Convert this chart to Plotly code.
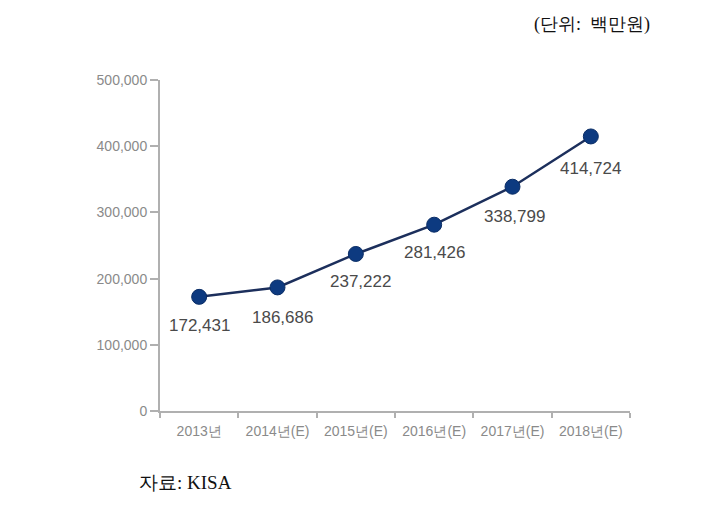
import plotly.graph_objects as go

categories = ["2013년", "2014년(E)", "2015년(E)", "2016년(E)", "2017년(E)", "2018년(E)"]
values = [172431, 186686, 237222, 281426, 338799, 414724]
labels = ["172,431", "186,686", "237,222", "281,426", "338,799", "414,724"]
y_ticks = [0, 100000, 200000, 300000, 400000, 500000]
y_tick_text = ["0", "100,000", "200,000", "300,000", "400,000", "500,000"]

label_xshift = [0, 5, 5, 0, 2, 0]
label_yshift = [-29, -30, -28, -28, -30, -32]

fig = go.Figure()
fig.add_trace(go.Scatter(
    x=categories, y=values, mode="lines+markers",
    line=dict(color="#1c2f5c", width=2.5),
    marker=dict(color="#0d3a80", size=15, line=dict(color="#0a2d66", width=1)),
    cliponaxis=False, showlegend=False,
))

for c, v, t, dx, dy in zip(categories, values, labels, label_xshift, label_yshift):
    fig.add_annotation(x=c, y=v, text=t, showarrow=False, xshift=dx, yshift=dy,
                       font=dict(family="Liberation Sans, Arial, sans-serif", size=17, color="#4a4a4a"))

fig.add_annotation(xref="paper", yref="paper", x=1.0, y=1.0, xanchor="right", yanchor="middle",
                   text="(단위:  백만원)", showarrow=False, xshift=22, yshift=56,
                   font=dict(family="Liberation Serif, serif", size=18, color="#111111"))
fig.add_annotation(xref="paper", yref="paper", x=0, y=0, xanchor="left", yanchor="middle",
                   text="자료: KISA", showarrow=False, xshift=-23, yshift=-71,
                   font=dict(family="Liberation Serif, serif", size=19, color="#111111"))

fig.update_layout(
    width=727, height=528,
    margin=dict(l=160, r=97, t=80, b=117),
    paper_bgcolor="white", plot_bgcolor="white",
    xaxis=dict(
        type="category", range=[-0.5, 5.5], showgrid=False,
        showline=True, linecolor="#b0b0b0", linewidth=2,
        ticks="outside", tickson="boundaries", ticklen=5, tickcolor="#b0b0b0", tickwidth=2,
        ticklabelstandoff=6,
        tickfont=dict(family="Liberation Sans, Arial, sans-serif", size=14, color="#8a8a8a"),
    ),
    yaxis=dict(
        range=[0, 500000], showgrid=False, zeroline=False,
        showline=True, linecolor="#b0b0b0", linewidth=2,
        ticks="outside", ticklen=8, tickcolor="#b0b0b0", tickwidth=2,
        tickvals=y_ticks, ticktext=y_tick_text,
        tickfont=dict(family="Liberation Sans, Arial, sans-serif", size=14, color="#8a8a8a"),
    ),
)

fig.write_html("out.html")
